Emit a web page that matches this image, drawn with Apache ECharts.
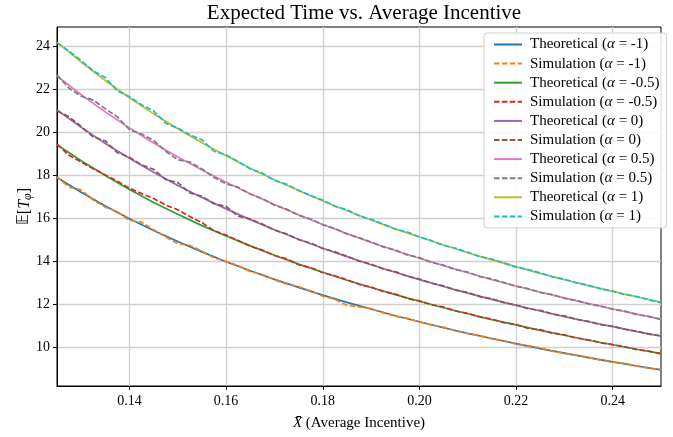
<!DOCTYPE html>
<html>
<head>
<meta charset="utf-8">
<script src="https://cdn.jsdelivr.net/npm/echarts@6/dist/echarts.min.js"></script>
<style>
  html, body { margin: 0; padding: 0; background: #fff; }
  #chart { width: 673px; height: 437px; }
</style>
</head>
<body>
<div id="chart"></div>
<script>
// x positions (average incentive)
var xTheo = [0.125, 0.13, 0.135, 0.14, 0.145, 0.15, 0.155, 0.16, 0.165, 0.17, 0.175, 0.18, 0.185,
  0.19, 0.195, 0.2, 0.205, 0.21, 0.215, 0.22, 0.225, 0.23, 0.235, 0.24, 0.245, 0.25];
var xSim = [0.125, 0.1275, 0.13, 0.1325, 0.135, 0.1375, 0.14, 0.1425, 0.145, 0.1475, 0.15, 0.1525,
  0.155, 0.1575, 0.16, 0.1625, 0.165, 0.1675, 0.17, 0.1725, 0.175, 0.1775, 0.18, 0.1825, 0.185,
  0.1875, 0.19, 0.1925, 0.195, 0.1975, 0.2, 0.2025, 0.205, 0.2075, 0.21, 0.2125, 0.215, 0.2175,
  0.22, 0.2225, 0.225, 0.2275, 0.23, 0.2325, 0.235, 0.2375, 0.24, 0.2425, 0.245, 0.2475, 0.25];
var xTicks = [0.14, 0.16, 0.18, 0.20, 0.22, 0.24];
var yTicks = [10, 12, 14, 16, 18, 20, 22, 24];

// theoretical curves
var theoM1 = [17.90, 17.21, 16.57, 15.98, 15.43, 14.92, 14.44, 13.98, 13.56, 13.16, 12.79, 12.43, 12.09,
  11.78, 11.47, 11.19, 10.91, 10.65, 10.41, 10.17, 9.94, 9.73, 9.52, 9.32, 9.13, 8.95];
var theoM05 = [19.42, 18.68, 17.99, 17.34, 16.74, 16.19, 15.66, 15.18, 14.72, 14.28, 13.87, 13.49, 13.12,
  12.78, 12.45, 12.14, 11.84, 11.56, 11.29, 11.04, 10.79, 10.56, 10.33, 10.12, 9.91, 9.71];
var theo0 = [21.04, 20.23, 19.48, 18.79, 18.14, 17.53, 16.97, 16.44, 15.94, 15.47, 15.03, 14.61, 14.22,
  13.84, 13.49, 13.15, 12.83, 12.52, 12.23, 11.95, 11.69, 11.43, 11.19, 10.96, 10.73, 10.52];
var theoP05 = [22.62, 21.75, 20.95, 20.20, 19.50, 18.85, 18.25, 17.68, 17.14, 16.64, 16.16, 15.71, 15.29,
  14.88, 14.50, 14.14, 13.80, 13.47, 13.15, 12.85, 12.57, 12.30, 12.03, 11.78, 11.54, 11.31];
var theoP1 = [24.20, 23.27, 22.41, 21.61, 20.86, 20.17, 19.52, 18.91, 18.33, 17.79, 17.29, 16.81, 16.35,
  15.92, 15.51, 15.13, 14.76, 14.40, 14.07, 13.75, 13.44, 13.15, 12.87, 12.60, 12.35, 12.10];

// simulation results
var simM1 = [17.92, 17.45, 17.32, 16.85, 16.52, 16.31, 15.90, 15.82, 15.47, 15.13, 14.82, 14.74, 14.47,
  14.16, 14.00, 13.80, 13.52, 13.39, 13.14, 12.95, 12.83, 12.62, 12.38, 12.24, 11.95, 11.88, 11.80,
  11.60, 11.44, 11.35, 11.18, 11.04, 10.94, 10.76, 10.64, 10.55, 10.39, 10.31, 10.14, 10.07, 9.97,
  9.82, 9.71, 9.64, 9.53, 9.40, 9.31, 9.25, 9.14, 9.02, 8.97];
var simM05 = [19.45, 18.93, 18.62, 18.30, 18.02, 17.72, 17.40, 17.15, 16.92, 16.62, 16.40, 16.08, 15.80,
  15.42, 15.22, 14.97, 14.70, 14.52, 14.27, 14.12, 13.84, 13.71, 13.47, 13.33, 13.14, 12.93, 12.80,
  12.60, 12.48, 12.27, 12.16, 11.98, 11.87, 11.69, 11.58, 11.41, 11.31, 11.15, 11.06, 10.88, 10.82,
  10.66, 10.58, 10.43, 10.35, 10.21, 10.13, 10.02, 9.89, 9.82, 9.70];
var sim0 = [21.00, 20.72, 20.27, 19.78, 19.60, 19.05, 18.84, 18.48, 18.28, 17.80, 17.66, 17.18, 17.02,
  16.68, 16.55, 16.10, 15.97, 15.73, 15.45, 15.28, 15.01, 14.85, 14.60, 14.44, 14.24, 14.01, 13.87,
  13.65, 13.52, 13.30, 13.18, 12.98, 12.86, 12.66, 12.55, 12.36, 12.26, 12.08, 11.97, 11.80, 11.72,
  11.55, 11.46, 11.30, 11.21, 11.05, 10.98, 10.84, 10.75, 10.61, 10.54];
var simP05 = [22.66, 22.05, 21.68, 21.50, 21.10, 20.72, 20.12, 19.92, 19.62, 19.12, 18.72, 18.62, 18.30,
  17.90, 17.60, 17.45, 17.12, 16.92, 16.61, 16.43, 16.14, 15.97, 15.70, 15.53, 15.27, 15.10, 14.90,
  14.67, 14.53, 14.30, 14.17, 13.95, 13.82, 13.61, 13.50, 13.29, 13.18, 13.01, 12.84, 12.73, 12.55,
  12.45, 12.28, 12.18, 12.02, 11.92, 11.77, 11.68, 11.52, 11.44, 11.29];
var simP1 = [24.17, 23.78, 23.34, 22.86, 22.55, 21.92, 21.66, 21.28, 21.00, 20.42, 20.20, 19.88, 19.65,
  19.12, 18.95, 18.64, 18.30, 18.10, 17.77, 17.58, 17.30, 17.05, 16.85, 16.56, 16.40, 16.12, 15.95,
  15.73, 15.50, 15.36, 15.14, 14.96, 14.74, 14.61, 14.42, 14.22, 14.10, 13.92, 13.73, 13.62, 13.46,
  13.28, 13.17, 13.00, 12.88, 12.72, 12.62, 12.45, 12.36, 12.20, 12.08];

var alphas = ['-1', '-0.5', '0', '0.5', '1'];
var theoSets = [theoM1, theoM05, theo0, theoP05, theoP1];
var simSets = [simM1, simM05, sim0, simP05, simP1];
var theoColors = ['#1f77b4', '#2ca02c', '#9467bd', '#e377c2', '#bcbd22'];
var simColors = ['#ff7f0e', '#d62728', '#8c564b', '#7f7f7f', '#17becf'];

function pairs(xs, ys) {
  return xs.map(function (x, i) { return [x, ys[i]]; });
}

var series = [];
var names = [];
for (var i = 0; i < alphas.length; i++) {
  var tName = 'Theoretical (α = ' + alphas[i] + ')';
  var sName = 'Simulation (α = ' + alphas[i] + ')';
  names.push(tName, sName);
  series.push({
    name: tName, type: 'line', data: pairs(xTheo, theoSets[i]),
    symbol: 'none', z: 2,
    lineStyle: { color: theoColors[i], width: 1.7 },
    itemStyle: { color: theoColors[i] }
  });
  series.push({
    name: sName, type: 'line', data: pairs(xSim, simSets[i]),
    symbol: 'none', z: 3,
    lineStyle: { color: simColors[i], width: 1.7, type: [5.5, 2.4] },
    itemStyle: { color: simColors[i] }
  });
}

var serif = '"Liberation Serif", "DejaVu Serif", serif';

var chart = echarts.init(document.getElementById('chart'));
var option = {
  animation: false,
  title: {
    text: 'Expected Time vs. Average Incentive',
    left: 359, top: -2, textAlign: 'center',
    textStyle: { fontFamily: serif, fontSize: 21, fontWeight: 'normal', color: '#000' }
  },
  grid: {
    left: 57, right: 12, top: 27, bottom: 51,
    show: true, borderColor: '#000', borderWidth: 1
  },
  legend: {
    orient: 'vertical',
    left: 484, top: 33,
    padding: [4, 7, 4, 9],
    itemWidth: 28, itemHeight: 12,
    itemGap: 4.1,
    backgroundColor: 'rgba(255,255,255,0.85)',
    borderColor: '#d0d0d0', borderWidth: 1, borderRadius: 3,
    itemStyle: { opacity: 0 },
    data: names,
    formatter: function (name) { return name.replace('α', '{a|α}'); },
    textStyle: {
      fontFamily: serif, fontSize: 15, color: '#000', padding: [0, 0, 0, 3],
      rich: { a: { fontFamily: serif, fontStyle: 'italic', fontSize: 15, color: '#000' } }
    }
  },
  xAxis: {
    type: 'value', min: 0.125, max: 0.25,
    name: '{x|X̄} (Average Incentive)',
    nameLocation: 'middle', nameGap: 30,
    nameTextStyle: {
      fontFamily: serif, fontSize: 15, color: '#000',
      rich: { x: { fontFamily: serif, fontStyle: 'italic', fontSize: 15, color: '#000' } }
    },
    axisLine: { lineStyle: { color: '#000', width: 1 } },
    axisTick: { show: true, inside: false, length: 4, customValues: xTicks, lineStyle: { color: '#000' } },
    axisLabel: {
      customValues: xTicks, margin: 8,
      fontFamily: serif, fontSize: 14, color: '#000',
      formatter: function (v) { return v.toFixed(2); }
    },
    splitLine: { show: true, lineStyle: { color: '#cfcfcf', width: 1.3 } }
  },
  yAxis: {
    type: 'value', min: 8.2, max: 24.9,
    name: '{e|𝔼}[{t|T}{s|φ}]',
    nameLocation: 'middle', nameGap: 23, nameRotate: 90,
    nameMoveOverlap: false,
    nameTextStyle: {
      fontFamily: serif, fontSize: 16, color: '#000',
      rich: {
        e: { fontFamily: '"DejaVu Sans", serif', fontSize: 15, color: '#000' },
        t: { fontFamily: serif, fontStyle: 'italic', fontSize: 16, color: '#000' },
        s: { fontFamily: serif, fontStyle: 'italic', fontSize: 12, color: '#000', verticalAlign: 'bottom', padding: [7, 0, 0, 0] }
      }
    },
    axisLine: { show: true, lineStyle: { color: '#000', width: 1 } },
    axisTick: { show: true, inside: false, length: 4, customValues: yTicks, lineStyle: { color: '#000' } },
    axisLabel: {
      customValues: yTicks, margin: 7,
      fontFamily: serif, fontSize: 14, color: '#000'
    },
    splitLine: { show: true, lineStyle: { color: '#cfcfcf', width: 1.3 } }
  },
  series: series
};
chart.setOption(option);
</script>
</body>
</html>
